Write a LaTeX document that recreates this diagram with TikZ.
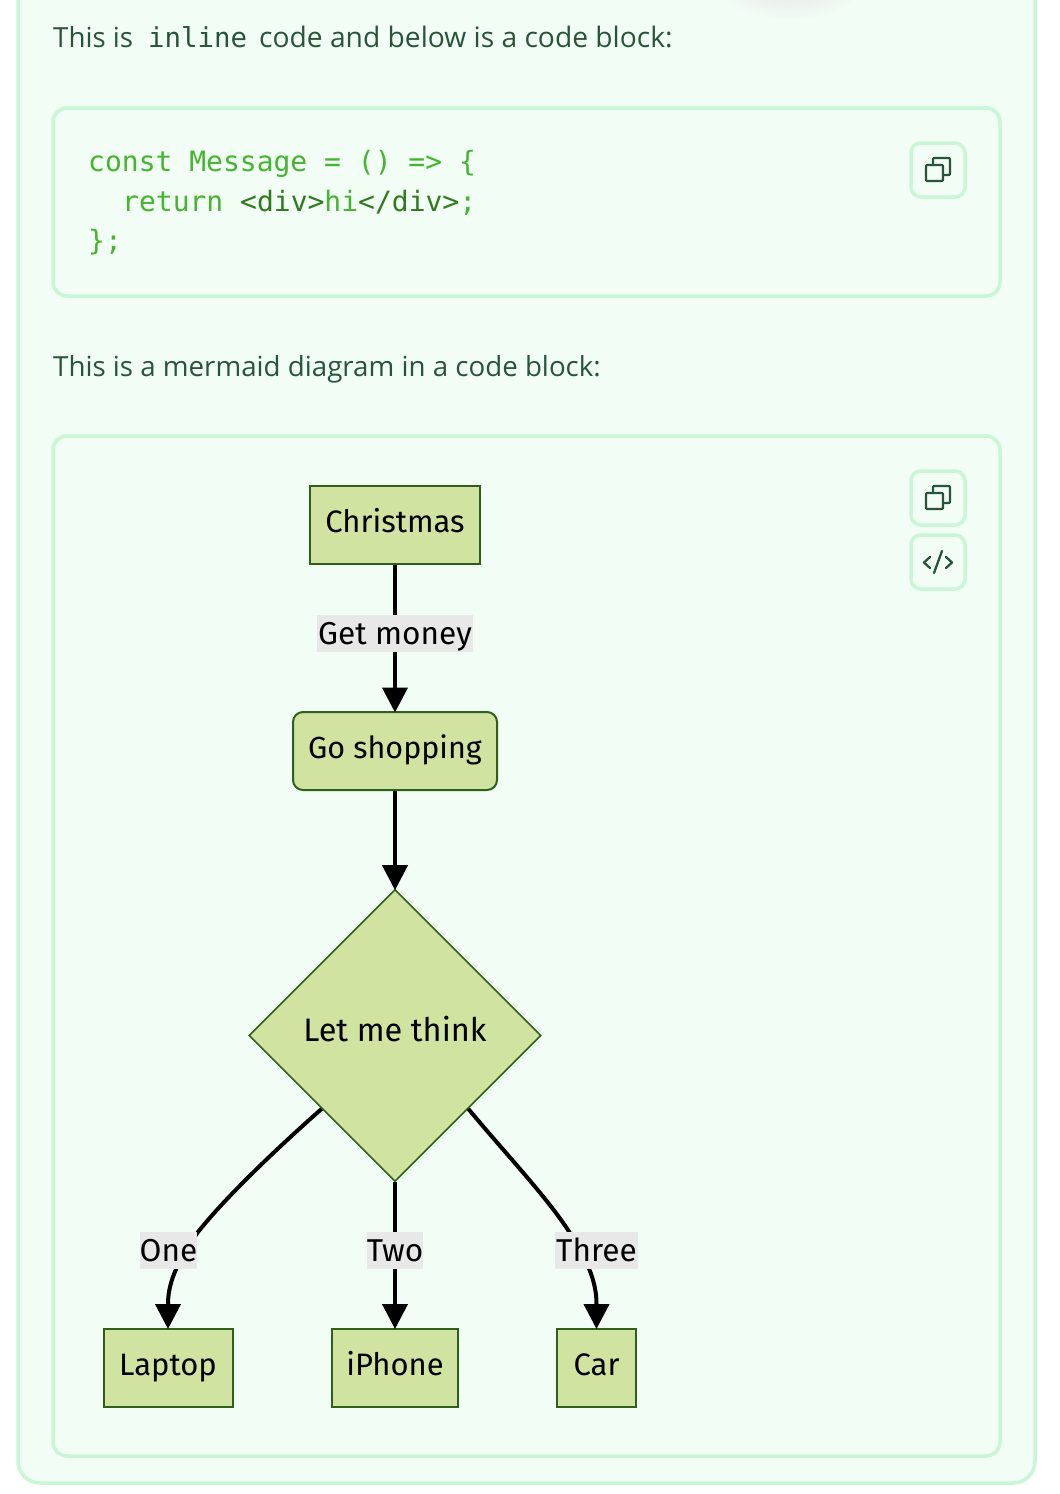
\documentclass[tikz,border=0pt]{standalone}
\usepackage{fontspec}
\setmainfont{Open Sans}
\setmonofont{DejaVu Sans Mono}
\newfontfamily\mfont{Fira Sans}
\usetikzlibrary{arrows.meta,shapes.geometric}
\definecolor{cardbg}{HTML}{F1FDF5}
\definecolor{cardline}{HTML}{C8F6D7}
\definecolor{bodytxt}{HTML}{28553A}
\definecolor{codegreen}{HTML}{45B52F}
\definecolor{tagdark}{HTML}{2F7A1F}
\definecolor{nodefill}{HTML}{D0E3A0}
\definecolor{nodeline}{HTML}{2F5F1B}
\definecolor{labelbg}{HTML}{E9E8E9}
\tikzset{
  panel/.style={draw=cardline,line width=3.5pt,fill=cardbg,rounded corners=14pt},
  iconbtn/.style={draw=cardline,line width=3.5pt,fill=cardbg,rounded corners=10pt},
  icon/.style={draw=bodytxt,line width=2.3pt,line join=round,line cap=round,rounded corners=1pt},
  bodytext/.style={anchor=base west,inner sep=0pt,text=bodytxt,font=\fontsize{27.7}{32}\selectfont},
  codetext/.style={anchor=base west,inner sep=0pt,text=codegreen,font=\ttfamily\fontsize{28}{34}\selectfont},
  flowbase/.style={draw=nodeline,line width=2pt,fill=nodefill,inner sep=0pt,text=black,
     font=\mfont\fontsize{31}{36}\selectfont,text height=21.5pt,text depth=6.5pt,minimum height=78pt},
  flowrect/.style={flowbase},
  flowround/.style={flowbase,rounded corners=10pt},
  flowdiamond/.style={flowbase,diamond,aspect=1,minimum width=292pt,minimum height=292pt,line width=1.6pt,
     font=\mfont\fontsize{32.5}{36}\selectfont},
  edge/.style={draw=black,line width=4pt,shorten >=-1.5pt,-{Triangle[length=25pt,width=25pt]}},
  edgelabel/.style={fill=labelbg,inner sep=0pt,text=black,font=\mfont\fontsize{31.6}{36}\selectfont,
     text height=29pt,text depth=8pt},
}
\begin{document}
\begin{tikzpicture}[x=1pt,y=-1pt]
\useasboundingbox (0,0) rectangle (1060,1494);
\fill[white] (0,0) rectangle (1060,1494);
% card
\draw[panel,rounded corners=22pt] (18,-60) rectangle (1035,1483);
\begin{scope}
\clip (20,0) rectangle (1033,60);
\shade[inner color=black!10,outer color=cardbg] (790,-14) ellipse (72pt and 34pt);
\end{scope}
% top text
\node[bodytext] (t1) at (53,47) {This is};
\node[anchor=base west,inner sep=0pt,text=bodytxt,font=\ttfamily\fontsize{27.4}{32}\selectfont] (t2) at (148,47) {inline};
\node[bodytext,font=\fontsize{28.2}{32}\selectfont] (t3) at (259,47) {code and below is a code block:};
% code block
\draw[panel] (53,108) rectangle (1000,296);
\node[codetext] (c1) at (88,171) {const Message = () => \{};
\node[codetext] (c2) at (122,211) {return {\color{tagdark}<div>}hi{\color{tagdark}</div>};};
\node[codetext] (c3) at (88,250) {\};};
\draw[iconbtn] (911,143) rectangle (965,197);
\draw[icon] (926,165) rectangle (943,181);
\draw[icon] (933,165) -- (933,158) -- (950,158) -- (950,175) -- (943,175);
% second text
\node[bodytext] (t4) at (53,376) {This is a mermaid diagram in a code block:};
% mermaid block
\draw[panel] (53,436) rectangle (1000,1456);
\draw[iconbtn] (911,471) rectangle (965,525);
\draw[icon] (926,493) rectangle (943,509);
\draw[icon] (933,493) -- (933,486) -- (950,486) -- (950,503) -- (943,503);
\draw[iconbtn] (911,535) rectangle (965,589);
\draw[bodytxt,line width=2.3pt,line join=round,line cap=round] (930,557) -- (924,562.5) -- (930,568);
\draw[bodytxt,line width=2.3pt,line join=round,line cap=round] (946,557) -- (952,562.5) -- (946,568);
\draw[bodytxt,line width=2.3pt,line cap=round] (942,551) -- (934,573);
% flowchart nodes
\node[flowrect,minimum width=170pt] (A) at (395,525) {Christmas};
\node[flowround,minimum width=204pt,font=\mfont\fontsize{30.5}{36}\selectfont] (B) at (395,751) {Go shopping};
\node[flowdiamond] (C) at (395,1035.5) {\raisebox{1.5pt}{Let me think}};
\node[flowrect,minimum width=129pt] (D) at (168,1367.5) {Laptop};
\node[flowrect,minimum width=126pt] (E) at (395,1367.5) {iPhone};
\node[flowrect,minimum width=79pt] (F) at (596.5,1367.5) {Car};
\coordinate (oneMid) at (198,1232);
\coordinate (oneEnd) at (168,1304);
\coordinate (threeMid) at (568,1230);
\coordinate (threeEnd) at (596.5,1304);
% connectors
\draw[edge] (A.south) -- (B.north);
\draw[edge] (B.south) -- (C.north);
\draw[edge] (C.south) -- (E.north);
\draw[edge] (C.south west) .. controls (275,1150) and (225,1198) .. (oneMid) .. controls (180,1258) and (168,1280) .. (oneEnd) -- (D.north);
\draw[edge] (C.south east) .. controls (505,1153) and (545,1195) .. (threeMid) .. controls (586,1258) and (596.5,1280) .. (threeEnd) -- (F.north);
% labels
\node[edgelabel,minimum width=156pt] (L1) at (395,633.5) {Get money};
\node[edgelabel,minimum width=57pt] (L2) at (168.5,1250.5) {One};
\node[edgelabel,minimum width=56pt] (L3) at (395,1250.5) {Two};
\node[edgelabel,minimum width=83pt] (L4) at (596.5,1250.5) {Three};
\end{tikzpicture}
\end{document}
